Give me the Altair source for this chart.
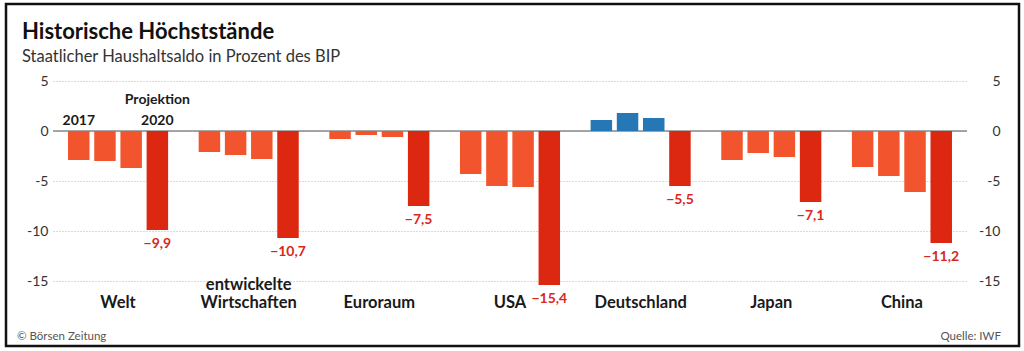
import altair as alt
import pandas as pd

# ---------------- data ----------------
groups = ["Welt", "entwickelte Wirtschaften", "Euroraum", "USA", "Deutschland", "Japan", "China"]
group_labels = ["Welt", "entwickelte\nWirtschaften", "Euroraum", "USA", "Deutschland", "Japan", "China"]
years = ["2017", "2018", "2019", "2020"]
welt = [-2.9, -3.0, -3.7, -9.9]
entwickelte = [-2.1, -2.4, -2.8, -10.7]
euroraum = [-0.8, -0.4, -0.6, -7.5]
usa = [-4.3, -5.5, -5.6, -15.4]
deutschland = [1.1, 1.8, 1.3, -5.5]
japan = [-2.9, -2.2, -2.6, -7.1]
china = [-3.6, -4.5, -6.1, -11.2]
y_ticks = [5, 0, -5, -10, -15]
projection_year = "2020"
first_year_label = "2017"
projection_label = "Projektion"
title_text = "Historische Höchststände"
subtitle_text = "Staatlicher Haushaltsaldo in Prozent des BIP"
footer_left = "© Börsen Zeitung"
footer_right = "Quelle: IWF"

series = [welt, entwickelte, euroraum, usa, deutschland, japan, china]

# ---------------- tables ----------------
rows = []
for g, vals in zip(groups, series):
    for yr, v in zip(years, vals):
        if yr == projection_year:
            kind = "proj"
        elif v > 0:
            kind = "pos"
        else:
            kind = "neg"
        rows.append({"group": g, "year": yr, "value": v, "kind": kind,
                     "label": ("%.1f" % v).replace(".", ",").replace("-", "\u2212")})
df = pd.DataFrame(rows)
proj_df = df[df["year"] == projection_year]

LABEL_Y = -17.2
LINE_STEP = 1.85
lab_rows = []
for g, lab in zip(groups, group_labels):
    lines = lab.split("\n")
    for k, line in enumerate(reversed(lines)):
        lab_rows.append({"group": g, "text": line, "y": LABEL_Y + k * LINE_STEP})
lab_df = pd.DataFrame(lab_rows)

YEAR_Y = 1.0
PROJ_Y = 3.1
ann_df = pd.DataFrame([
    {"group": groups[0], "year": years[0], "text": first_year_label, "y": YEAR_Y},
    {"group": groups[0], "year": projection_year, "text": projection_year, "y": YEAR_Y},
    {"group": groups[0], "year": projection_year, "text": projection_label, "y": PROJ_Y},
])
zero_df = pd.DataFrame({"y": [0]})
one_df = pd.DataFrame({"a": [0]})

# ---------------- shared encodings ----------------
FONT = "Lato"
xscale = alt.Scale(domain=groups, paddingInner=0.234, paddingOuter=0.115)
xoscale = alt.Scale(domain=years, paddingInner=0.18, paddingOuter=0)
yscale = alt.Scale(domain=[-15, 5], nice=False, zero=False)
X = alt.X("group:N", scale=xscale, axis=None)
XO = alt.XOffset("year:N", scale=xoscale)

label_expr = "(datum.value < 0 ? '-' : '') + abs(datum.value)"

bars = alt.Chart(df).mark_bar().encode(
    x=X, xOffset=XO,
    y=alt.Y("value:Q", scale=yscale, title=None,
            axis=alt.Axis(values=y_ticks, orient="left", domain=False, ticks=False,
                          grid=True, gridColor="#b5b5b5", gridDash=[1, 2], gridWidth=1,
                          labelFont=FONT, labelFontSize=14, labelColor="#333",
                          labelPadding=5, labelExpr=label_expr)),
    color=alt.Color("kind:N", legend=None,
                    scale=alt.Scale(domain=["neg", "pos", "proj"],
                                    range=["#f2552d", "#2577b5", "#dc2711"])),
)

right_axis = alt.Chart(zero_df).mark_rule(color="#8a8a8a", strokeWidth=1.6).encode(
    y=alt.Y("y:Q", scale=yscale, title=None,
            axis=alt.Axis(values=y_ticks, orient="right", domain=False, ticks=False,
                          grid=False, labelFont=FONT, labelFontSize=14, labelColor="#333",
                          labelAlign="right", labelPadding=33, labelExpr=label_expr)),
)

values_txt = alt.Chart(proj_df).mark_text(
    font=FONT, fontSize=14, fontWeight="bold", color="#d8281c", baseline="middle", dy=14
).encode(
    x=X, xOffset=XO,
    y=alt.Y("value:Q", scale=yscale, axis=None),
    text="label:N",
)

ann_txt = alt.Chart(ann_df).mark_text(
    font=FONT, fontSize=14, fontWeight="bold", color="#1a1a1a", baseline="middle"
).encode(
    x=X, xOffset=XO,
    y=alt.Y("y:Q", scale=yscale, axis=None),
    text="text:N",
)

group_txt = alt.Chart(lab_df).mark_text(
    font=FONT, fontSize=16.5, fontWeight="bold", color="#1a1a1a", baseline="middle"
).encode(
    x=X,
    y=alt.Y("y:Q", scale=yscale, axis=None),
    text="text:N",
)

frame = alt.Chart(one_df).mark_rect(fillOpacity=0, stroke="#111", strokeWidth=2.5).encode(
    x=alt.value(-47), x2=alt.value(966), y=alt.value(-77), y2=alt.value(265)
)

foot_l = alt.Chart(one_df).mark_text(
    font=FONT, fontSize=11.5, color="#555", align="left", baseline="alphabetic"
).encode(x=alt.value(-36), y=alt.value(259), text=alt.value(footer_left))

foot_r = alt.Chart(one_df).mark_text(
    font=FONT, fontSize=11.5, color="#555", align="right", baseline="alphabetic"
).encode(x=alt.value(948), y=alt.value(259), text=alt.value(footer_right))

chart = alt.layer(
    right_axis, bars, values_txt, ann_txt, group_txt, frame, foot_l, foot_r
).resolve_scale(y="shared").resolve_axis(y="independent").properties(
    width=914, height=200,
    padding={"left": 53, "top": 81, "right": 57, "bottom": 70},
    autosize=alt.AutoSizeParams(type="none"),
    title=alt.Title(text=title_text, subtitle=subtitle_text, anchor="start", frame="group",
                    dx=-31, dy=70, offset=6, font=FONT, fontSize=22, fontWeight="bold",
                    color="#111", subtitleFont=FONT, subtitleFontSize=16.5,
                    subtitleColor="#333", subtitlePadding=5),
    background="white",
).configure_view(stroke=None)

chart.save("out.html", embed_options={"renderer": "svg", "actions": False})
